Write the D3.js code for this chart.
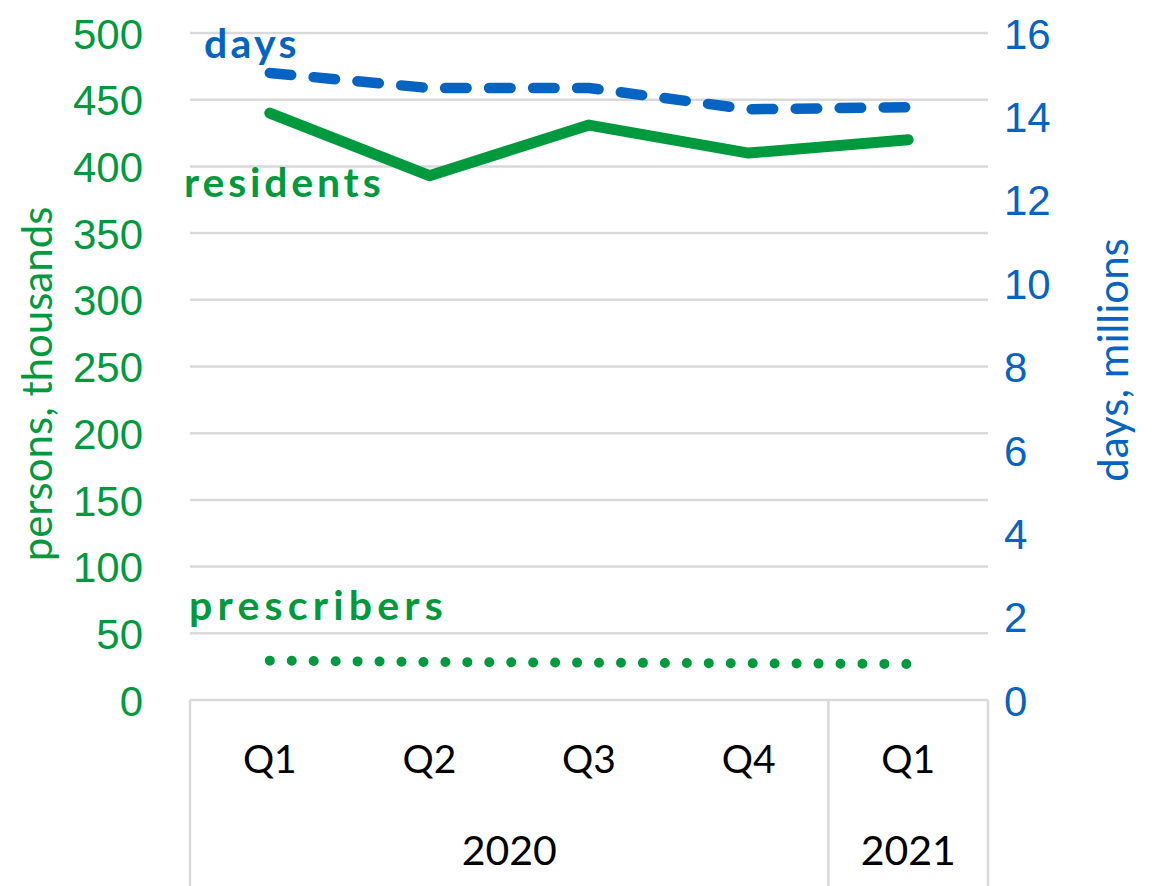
<!DOCTYPE html>
<html><head><meta charset="utf-8">
<script src="https://cdn.jsdelivr.net/npm/d3@7"></script>
<style>body{margin:0;background:#fff}svg{display:block;font-family:Lato,"Open Sans",sans-serif}</style>
</head><body>
<svg id="c" width="1153" height="886"></svg>
<script>
const quarters = ["Q1","Q2","Q3","Q4","Q1"];
const years = [{label:"2020", span:4},{label:"2021", span:1}];
const residents = [440, 393, 431, 410, 420];
const prescribers = [29.5, 28.5, 28, 27.5, 27];
const days = [15.04, 14.68, 14.68, 14.17, 14.22];
const leftTicks = [0,50,100,150,200,250,300,350,400,450,500];
const rightTicks = [0,2,4,6,8,10,12,14,16];

const green = "#009a3e", blue = "#0563c1", grid = "#d9d9d9";
const svg = d3.select("#c");
const L = 190, R = 988, T = 33, B = 700;
const x = d3.scaleBand().domain(d3.range(quarters.length)).range([L, R]);
const yL = d3.scaleLinear().domain([0,500]).range([B, T]);
const yR = d3.scaleLinear().domain([0,16]).range([B, T]);
const cx = i => x(i) + x.bandwidth()/2;

// gridlines
svg.append("g").selectAll("line").data(leftTicks.filter(d=>d>0)).join("line")
  .attr("x1", L).attr("x2", R).attr("y1", d=>yL(d)).attr("y2", d=>yL(d))
  .attr("stroke", grid).attr("stroke-width", 2.5);

// left axis
const gl = svg.append("g").attr("transform", `translate(${L},0)`)
  .call(d3.axisLeft(yL).tickValues(leftTicks).tickSize(0).tickPadding(47));
gl.select(".domain").remove();
gl.selectAll("text").attr("fill", green).attr("font-size", 42).attr("dy","0.36em");
// right axis
const gr = svg.append("g").attr("transform", `translate(${R},0)`)
  .call(d3.axisRight(yR).tickValues(rightTicks).tickSize(0).tickPadding(16));
gr.select(".domain").remove();
gr.selectAll("text").attr("fill", blue).attr("font-size", 42).attr("dy","0.36em");

// axis titles
svg.append("text").attr("transform", "translate(52,384) rotate(-90)")
  .attr("text-anchor","middle").attr("fill", green).attr("font-size", 42).text("persons, thousands");
svg.append("text").attr("transform", "translate(1128,360) rotate(-90)")
  .attr("text-anchor","middle").attr("fill", blue).attr("font-size", 42).text("days, millions");

// category axis
const ax = svg.append("g");
ax.append("line").attr("x1", L).attr("x2", R).attr("y1", B).attr("y2", B).attr("stroke", grid).attr("stroke-width", 2.5);
let acc = 0;
const seps = [0];
years.forEach(y => { acc += y.span; seps.push(acc); });
const sx = d => d === quarters.length ? R : x(d);
ax.selectAll("line.sep").data(seps).join("line").attr("class","sep")
  .attr("x1", sx).attr("x2", sx)
  .attr("y1", B).attr("y2", 886).attr("stroke", grid).attr("stroke-width", 2.5);
ax.selectAll("text.q").data(quarters).join("text").attr("class","q")
  .attr("x", (d,i)=>cx(i)).attr("y", 773).attr("text-anchor","middle")
  .attr("font-size", 39).attr("fill","#000").text(d=>d);
ax.selectAll("text.yr").data(years).join("text").attr("class","yr")
  .attr("x", (d,i)=> (sx(seps[i]) + sx(seps[i+1]))/2)
  .attr("y", 865).attr("text-anchor","middle").attr("font-size", 41).attr("fill","#000").text(d=>d.label);

// lines
const lineL = d3.line().x((d,i)=>cx(i)).y(d=>yL(d));
const lineR = d3.line().x((d,i)=>cx(i)).y(d=>yR(d));
svg.append("path").attr("d", lineL(prescribers)).attr("fill","none").attr("stroke", green)
  .attr("stroke-width", 10).attr("stroke-linecap","round").attr("stroke-dasharray","0 21.95");
svg.append("path").attr("d", lineL(residents)).attr("fill","none").attr("stroke", green)
  .attr("stroke-width", 11).attr("stroke-linecap","round").attr("stroke-linejoin","round");
svg.append("path").attr("d", lineR(days)).attr("fill","none").attr("stroke", blue)
  .attr("stroke-width", 10.5).attr("stroke-linecap","round").attr("stroke-linejoin","round")
  .attr("stroke-dasharray","21.5 22.5");

// series labels
svg.append("text").attr("x", 204).attr("y", 58).attr("font-size", 41).attr("font-weight","bold")
  .attr("letter-spacing", 3.3).attr("fill", blue).text("days");
svg.append("text").attr("x", 184).attr("y", 197).attr("font-size", 41).attr("font-weight","bold")
  .attr("letter-spacing", 3.8).attr("fill", green).text("residents");
svg.append("text").attr("x", 189).attr("y", 620).attr("font-size", 41).attr("font-weight","bold")
  .attr("letter-spacing", 5.2).attr("fill", green).text("prescribers");
</script>
</body></html>
